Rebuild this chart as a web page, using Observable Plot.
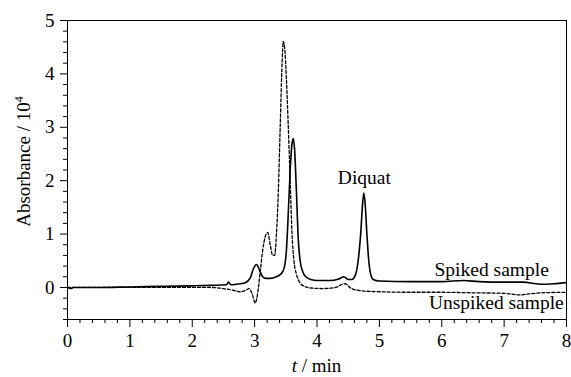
<!DOCTYPE html>
<html><head><meta charset="utf-8">
<script src="https://cdn.jsdelivr.net/npm/d3@7"></script>
<script src="https://cdn.jsdelivr.net/npm/@observablehq/plot@0.6"></script>
<style>
body{margin:0;background:#fff}
svg{display:block}
</style>
</head><body><div id="chart"></div>
<script>
// Spiked sample (solid line)
const spikedTime = [0, 0.05, 0.1, 0.5, 1.0, 1.5, 2.0, 2.3, 2.55, 2.58, 2.62, 2.7, 2.85, 2.93, 2.98, 3.03, 3.08, 3.13, 3.18, 3.25, 3.35, 3.42, 3.47, 3.51, 3.54, 3.57, 3.6, 3.62, 3.64, 3.67, 3.7, 3.73, 3.77, 3.82, 3.9, 4.0, 4.2, 4.35, 4.43, 4.5, 4.56, 4.62, 4.66, 4.7, 4.73, 4.75, 4.77, 4.8, 4.83, 4.86, 4.9, 5.0, 5.5, 6.0, 6.35, 6.6, 7.0, 7.3, 7.6, 7.8, 8.0];
const spikedAbs = [0.0, -0.02, 0.0, 0.0, 0.01, 0.02, 0.03, 0.04, 0.05, 0.1, 0.05, 0.06, 0.09, 0.18, 0.35, 0.43, 0.32, 0.2, 0.17, 0.17, 0.2, 0.25, 0.35, 0.7, 1.4, 2.2, 2.7, 2.79, 2.6, 1.8, 0.9, 0.5, 0.3, 0.2, 0.15, 0.13, 0.13, 0.16, 0.2, 0.15, 0.15, 0.25, 0.5, 1.0, 1.55, 1.77, 1.6, 1.0, 0.5, 0.25, 0.15, 0.12, 0.11, 0.11, 0.13, 0.11, 0.1, 0.1, 0.06, 0.07, 0.09];
// Unspiked sample (dashed line)
const unspikedTime = [0, 0.5, 1.0, 1.5, 2.0, 2.3, 2.5, 2.65, 2.77, 2.86, 2.91, 2.96, 3.01, 3.05, 3.09, 3.13, 3.17, 3.21, 3.25, 3.29, 3.32, 3.35, 3.38, 3.41, 3.44, 3.46, 3.48, 3.51, 3.54, 3.57, 3.6, 3.63, 3.67, 3.72, 3.8, 3.9, 4.1, 4.3, 4.4, 4.45, 4.55, 4.7, 5.0, 5.5, 6.0, 6.5, 7.0, 7.25, 7.4, 7.6, 8.0];
const unspikedAbs = [0.0, 0.0, 0.0, 0.0, 0.0, 0.0, -0.02, -0.05, -0.08, -0.05, -0.02, -0.12, -0.29, -0.1, 0.3, 0.7, 0.95, 1.03, 0.8, 0.6, 0.6, 1.0, 1.8, 3.0, 4.2, 4.61, 4.5, 3.9, 3.0, 2.0, 1.0, 0.5, 0.25, 0.1, 0.02, -0.01, -0.02, 0.0, 0.06, 0.07, -0.02, -0.06, -0.08, -0.09, -0.09, -0.1, -0.11, -0.14, -0.12, -0.1, -0.09];

const xTicks = [0, 1, 2, 3, 4, 5, 6, 7, 8];
const yTicks = [0, 1, 2, 3, 4, 5];
const xMinorTicks = d3.range(0, 8.001, 0.2).map(v => +v.toFixed(1)).filter(v => !Number.isInteger(v));
const yMinorTicks = d3.range(-0.6, 5.001, 0.2).map(v => +v.toFixed(1)).filter(v => !Number.isInteger(v));

const noteText = ["Diquat", "Spiked sample", "Unspiked sample"];
const noteTime = [4.76, 6.80, 6.875];
const noteAbs = [1.94, 0.21, -0.41];

const xLabel = ["t", " / min"];
const yLabel = ["Absorbance / 10", "4"];

const spiked = spikedTime.map((t, i) => ({t, a: spikedAbs[i]}));
const unspiked = unspikedTime.map((t, i) => ({t, a: unspikedAbs[i]}));
const notes = noteText.map((s, i) => ({s, t: noteTime[i], a: noteAbs[i]}));

const font = "Liberation Serif";
const plot = Plot.plot({
  width: 571, height: 377,
  marginLeft: 67, marginRight: 5, marginTop: 20, marginBottom: 58,
  style: {fontSize: "19px", background: "#fff", color: "#000"},
  x: {domain: [0, 8]},
  y: {domain: [-0.6, 5]},
  marks: [
    Plot.line(unspiked, {x: "t", y: "a", stroke: "#000", strokeWidth: 1.3, strokeDasharray: "3,2", curve: "monotone-x"}),
    Plot.line(spiked, {x: "t", y: "a", stroke: "#000", strokeWidth: 1.6, curve: "monotone-x"}),
    Plot.axisX({ticks: xTicks, tickSize: 8, tickPadding: 6, label: null, tickFormat: d => String(d), fontSize: 19}),
    Plot.axisX({ticks: xMinorTicks, tickSize: 4, text: null, label: null}),
    Plot.axisY({ticks: yTicks, tickSize: 7, tickPadding: 6, label: null, tickFormat: d => String(d), fontSize: 19}),
    Plot.axisY({ticks: yMinorTicks, tickSize: 4, text: null, label: null}),
    Plot.frame({stroke: "#000", strokeWidth: 1}),
    Plot.text(notes, {x: "t", y: "a", text: "s", textAnchor: "middle", lineAnchor: "bottom", fontSize: 19.5, fill: "#000"})
  ]
});

const svg = d3.select(plot);
svg.attr("font-family", font).style("font-family", font);
svg.selectAll("g").attr("font-family", font);
svg.selectAll("text").attr("font-family", font);
const xs = plot.scale("x"), ys = plot.scale("y");
const xl = svg.append("text")
  .attr("x", (xs.apply(0) + xs.apply(8)) / 2).attr("y", 372)
  .attr("text-anchor", "middle").attr("font-size", 19).attr("fill", "#000")
  .attr("font-family", font);
xl.append("tspan").attr("font-style", "italic").text(xLabel[0]);
xl.append("tspan").text(xLabel[1]);
const yl = svg.append("text")
  .attr("transform", `translate(30,${(ys.apply(-0.6) + ys.apply(5)) / 2 - 8}) rotate(-90)`)
  .attr("text-anchor", "middle").attr("font-size", 19).attr("fill", "#000")
  .attr("font-family", font);
yl.append("tspan").text(yLabel[0]);
yl.append("tspan").attr("dy", "-0.55em").attr("font-size", 12).text(yLabel[1]);

document.getElementById("chart").append(plot);
</script>
</body></html>
